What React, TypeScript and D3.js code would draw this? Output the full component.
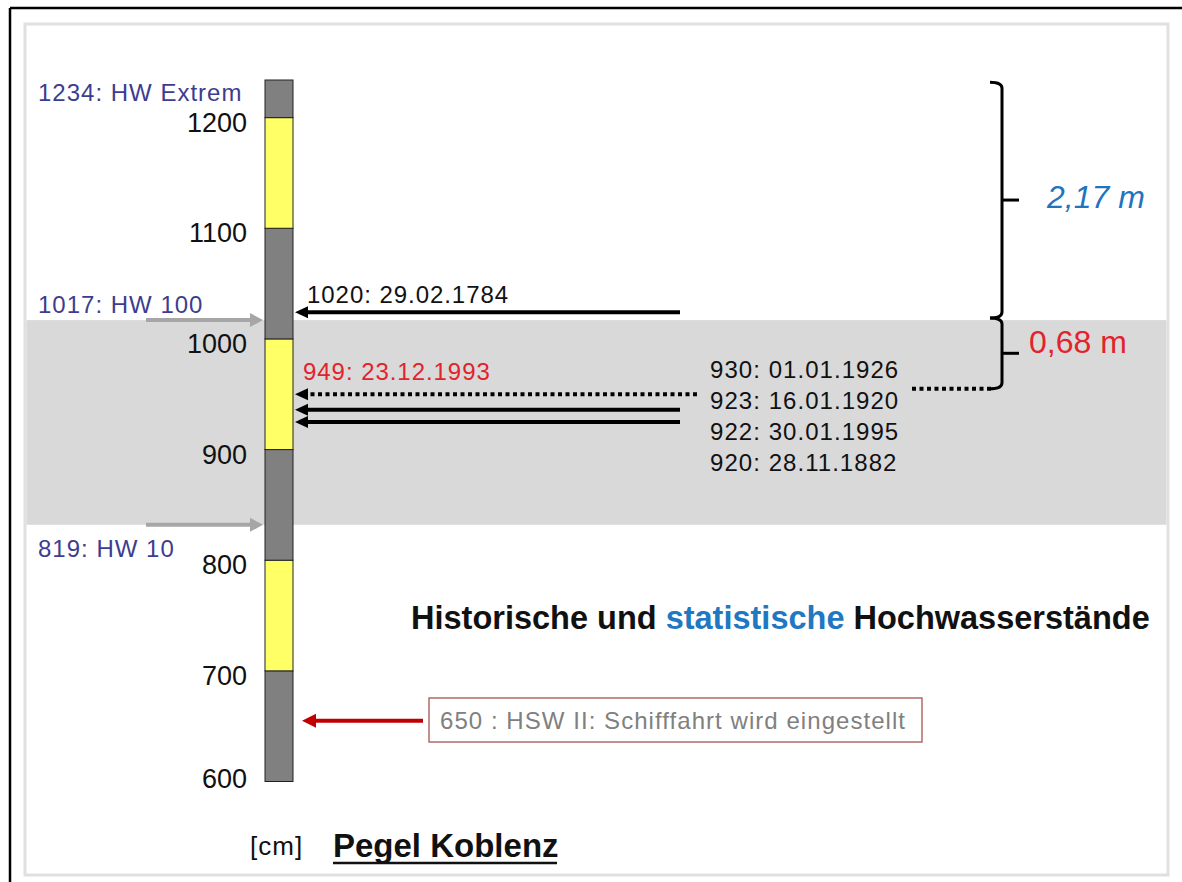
import React from "react";
import * as d3 from "d3";

// ---- data ----
const tickValues = [600, 700, 800, 900, 1000, 1100, 1200];
const barBounds = [600, 700, 800, 900, 1000, 1100, 1200, 1234];
const barColors = ["#808080", "#ffff66", "#808080", "#ffff66", "#808080", "#ffff66", "#808080"];

const statLabels = ["1234: HW Extrem", "1017: HW 100", "819: HW 10"];
const statLabelLevels = [1234, 1017, 819];
const statArrowLevels = [1017, 832]; // drawn positions of HW100 / HW10 arrows
const bandRange = [1017, 832];

const histLevels = [1024, 950, 936, 925];
const histDotted = [false, true, false, false];
const histLeftLabels = ["1020: 29.02.1784", "949: 23.12.1993"];
const histRightLabels = ["930: 01.01.1926", "923: 16.01.1920", "922: 30.01.1995", "920: 28.11.1882"];

const braceLevels = [1232, 1019, 955];
const braceLabels = ["2,17 m", "0,68 m"];

const shipLevel = 655;
const shipLabel = "650 : HSW II: Schifffahrt wird eingestellt";

const FONT = "'Liberation Sans', Arial, Helvetica, sans-serif";

export default function App() {
  const W = 1182, H = 882;
  const y = d3.scaleLinear().domain([600, 1234]).range([781.5, 80]);
  const barX0 = 265, barX1 = 293;

  const blackHead = (yy: number) => `M295,${yy} L308,${yy - 6} L308,${yy + 6} Z`;
  const grayHead = (yy: number) => `M263,${yy} L250,${yy - 7} L250,${yy + 7} Z`;

  const bracePath = (t: number, b: number) => {
    const xv = 1002, xh = 990;
    const yt = y(t), yb = y(b);
    return `M${xh},${yt} Q${xv},${yt} ${xv},${yt + 6} L${xv},${yb - 6} Q${xv},${yb} ${xh},${yb}`;
  };

  return (
    <svg width={W} height={H} style={{ position: "absolute", left: 0, top: 0, background: "#fff" }} fontFamily={FONT}>
      <rect x={0} y={0} width={W} height={H} fill="#fff" />
      {/* outer black frame (left/top) */}
      <line x1={10} y1={8} x2={10} y2={H} stroke="#000" strokeWidth={2.5} />
      <line x1={10} y1={8} x2={W} y2={8} stroke="#000" strokeWidth={2.5} />
      {/* inner gray frame */}
      <rect x={25} y={24} width={1143} height={851} fill="#fff" stroke="#e0e0e0" strokeWidth={3} />

      {/* band */}
      <rect x={26.5} y={y(bandRange[0])} width={1140} height={y(bandRange[1]) - y(bandRange[0])} fill="#d9d9d9" />

      {/* bar */}
      {barColors.map((c, i) => (
        <rect key={i} x={barX0} y={y(barBounds[i + 1])} width={barX1 - barX0} height={y(barBounds[i]) - y(barBounds[i + 1])}
          fill={c} stroke="#222" strokeWidth={1} />
      ))}

      {/* tick labels */}
      {tickValues.map((v) => (
        <text key={v} x={247} y={Math.min(y(v) + 14, y(600) + 6)} textAnchor="end" fontSize={27} fill="#111">{v}</text>
      ))}

      {/* stat labels */}
      {statLabels.map((s, i) => (
        <text key={s} x={38} y={i === 0 ? y(statLabelLevels[i]) + 21 : i === 1 ? y(statLabelLevels[i]) - 7 : y(statLabelLevels[i]) + 18}
          fontSize={24} letterSpacing={1} fill="#3d3d8f">{s}</text>
      ))}
      {statArrowLevels.map((v, i) => (
        <g key={i}>
          <line x1={146} x2={252} y1={y(v)} y2={y(v)} stroke="#a6a6a6" strokeWidth={4} />
          <path d={grayHead(y(v))} fill="#a6a6a6" />
        </g>
      ))}

      {/* historic arrows */}
      {histLevels.map((v, i) => (
        <g key={i}>
          <line x1={histDotted[i] ? 697 : 680} x2={306} y1={y(v)} y2={y(v)} stroke="#000" strokeWidth={4}
            strokeDasharray={histDotted[i] ? "4 3.5" : undefined} />
          <path d={blackHead(y(v))} fill="#000" />
        </g>
      ))}
      <text x={307} y={y(histLevels[0]) - 9} fontSize={24} letterSpacing={0.95} fill="#111">{histLeftLabels[0]}</text>
      <text x={303} y={y(histLevels[1]) - 14} fontSize={24} letterSpacing={0.95} fill="#e3232b">{histLeftLabels[1]}</text>
      {histRightLabels.map((s, i) => (
        <text key={s} x={710} y={378 + i * 31} fontSize={24} letterSpacing={1.05} fill="#111">{s}</text>
      ))}
      {/* dotted connector to brace */}
      <line x1={912} x2={993} y1={y(braceLevels[2])} y2={y(braceLevels[2])} stroke="#000" strokeWidth={4} strokeDasharray="4 3.5" />

      {/* braces */}
      {[0, 1].map((i) => {
        const t = braceLevels[i], b = braceLevels[i + 1];
        const ym = (y(t) + y(b)) / 2;
        return (
          <g key={i}>
            <path d={bracePath(t, b)} fill="none" stroke="#000" strokeWidth={3} />
            <line x1={1002} x2={1019} y1={ym} y2={ym} stroke="#000" strokeWidth={3} />
          </g>
        );
      })}
      <text x={1047} y={208} fontSize={32} fontStyle="italic" fill="#1f74bf">{braceLabels[0]}</text>
      <text x={1029} y={353} fontSize={32} fill="#e3232b">{braceLabels[1]}</text>

      {/* title */}
      <text x={411} y={629} fontSize={32.5} fontWeight="bold" fill="#111">
        Historische und <tspan fill="#1f78c1">statistische</tspan> Hochwasserstände
      </text>

      {/* ship box */}
      <line x1={423} x2={312} y1={y(shipLevel)} y2={y(shipLevel)} stroke="#c00000" strokeWidth={4} />
      <path d={`M302,${y(shipLevel)} L316,${y(shipLevel) - 7} L316,${y(shipLevel) + 7} Z`} fill="#c00000" />
      <rect x={429} y={698} width={493} height={44} fill="#fff" stroke="#b06a6a" strokeWidth={1.5} />
      <text x={440} y={729} fontSize={24} letterSpacing={1.05} fill="#808080">{shipLabel}</text>

      {/* footer */}
      <text x={250} y={855} fontSize={26} letterSpacing={1} fill="#111">[cm]</text>
      <text x={333} y={857} fontSize={33} fontWeight="bold" fill="#111">Pegel Koblenz</text>
      <line x1={333} x2={557} y1={863} y2={863} stroke="#111" strokeWidth={2.5} />
    </svg>
  );
}
